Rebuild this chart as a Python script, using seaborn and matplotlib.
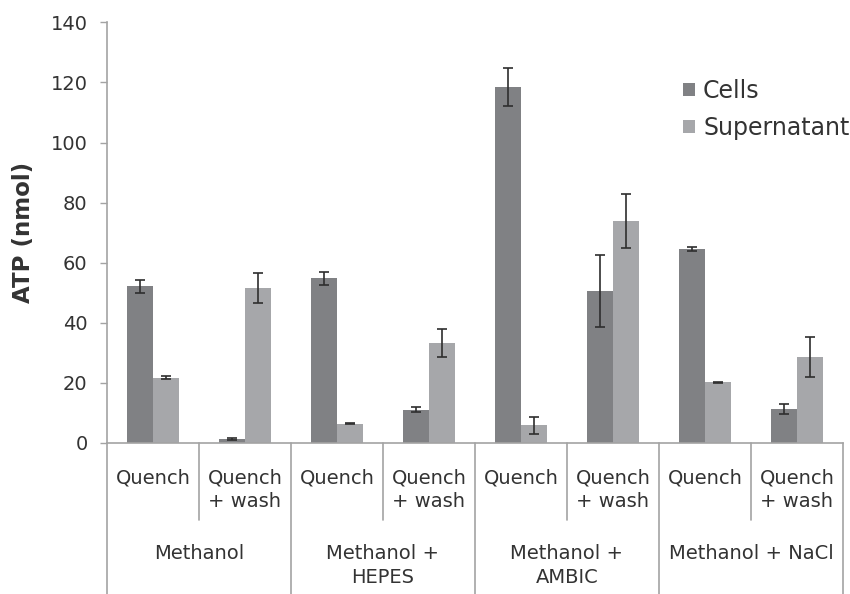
import matplotlib
matplotlib.use("Agg")
import matplotlib.pyplot as plt
import numpy as np
import pandas as pd
import seaborn as sns

# ATP measured in cell pellets and supernatants for each quenching protocol
conditions = ["Methanol", "Methanol +\nHEPES", "Methanol +\nAMBIC", "Methanol + NaCl"]
treatments = ["Quench", "Quench\n+ wash"]
fractions = ["Cells", "Supernatant"]

cells = [52.1, 1.4, 54.8, 11.1, 118.5, 50.7, 64.6, 11.3]
cells_err = [2.3, 0.3, 2.2, 0.8, 6.2, 12.0, 0.6, 1.7]
supernatant = [21.8, 51.6, 6.4, 33.2, 5.9, 73.8, 20.2, 28.6]
supernatant_err = [0.6, 4.9, 0.2, 4.7, 2.9, 9.0, 0.2, 6.6]

yticks = [0, 20, 40, 60, 80, 100, 120, 140]

palette = {"Cells": "#808184", "Supernatant": "#a6a7aa"}
line_grey = "#a3a3a3"
text_col = "#333333"

# long-form table: one row per bar
samples = [f"{c}|{t}" for c in conditions for t in treatments]
df = pd.DataFrame({
    "sample": samples * 2,
    "fraction": ["Cells"] * len(samples) + ["Supernatant"] * len(samples),
    "atp": cells + supernatant,
})

sns.set_style("white")
plt.rcParams["font.family"] = ["DejaVu Sans"]

fig = plt.figure(figsize=(8.5, 5.94), dpi=100)
ax = fig.add_axes([107 / 850, 1 - 443 / 594, 736 / 850, 420.6 / 594])

sns.barplot(data=df, x="sample", y="atp", hue="fraction", order=samples,
            hue_order=fractions, palette=palette, width=0.565, saturation=1,
            errorbar=None, ax=ax, linewidth=0)

# error bars at the centre of every bar
for cont, errs in zip(ax.containers, [cells_err, supernatant_err]):
    xs = [b.get_x() + b.get_width() / 2 for b in cont]
    hs = [b.get_height() for b in cont]
    ax.errorbar(xs, hs, yerr=errs, fmt="none", ecolor="#2e2e2e",
                elinewidth=1.2, capsize=3.6, capthick=1.2, zorder=5)

ax.set_xlim(-0.5, len(samples) - 0.5)
ax.set_ylim(0, 140)
ax.set_yticks(yticks)
ax.tick_params(axis="y", length=5, width=1, color=line_grey, pad=9,
               labelsize=14, labelcolor=text_col, left=True)
ax.set_xticks([])
ax.set_xlabel("")
ax.set_ylabel("ATP (nmol)", fontsize=16.5, fontweight="bold", color=text_col)
ax.yaxis.set_label_coords(-0.098, 0.5)

for s in ["top", "right"]:
    ax.spines[s].set_visible(False)
for s in ["left", "bottom"]:
    ax.spines[s].set_color(line_grey)
    ax.spines[s].set_linewidth(1.2)

# two-level category axis
tr = ax.get_xaxis_transform()
for i, s in enumerate(samples):
    cond, treat = s.split("|")
    ax.text(i, -0.06, treat, transform=tr, ha="center", va="top",
            fontsize=14, color=text_col, linespacing=1.3, clip_on=False)
for j, cond in enumerate(conditions):
    ax.text(2 * j + 0.5, -0.241, cond, transform=tr, ha="center", va="top",
            fontsize=14, color=text_col, linespacing=1.3, clip_on=False)

for j in range(len(conditions)):
    ax.plot([2 * j + 0.5] * 2, [0, -0.183], transform=tr, color=line_grey,
            lw=1.2, clip_on=False)
for k in range(len(conditions) + 1):
    ax.plot([2 * k - 0.5] * 2, [0, -0.37], transform=tr, color=line_grey,
            lw=1.2, clip_on=False)

handles, labels = ax.get_legend_handles_labels()
ax.legend(handles, labels, loc="upper left", bbox_to_anchor=(683 / 850, 1 - 79 / 594),
          bbox_transform=fig.transFigure, frameon=False, fontsize=17,
          handlelength=0.5, handleheight=0.5, handletextpad=0.35,
          labelspacing=0.55, borderpad=0, borderaxespad=0, labelcolor=text_col)

fig.savefig("out.png", dpi=100)
